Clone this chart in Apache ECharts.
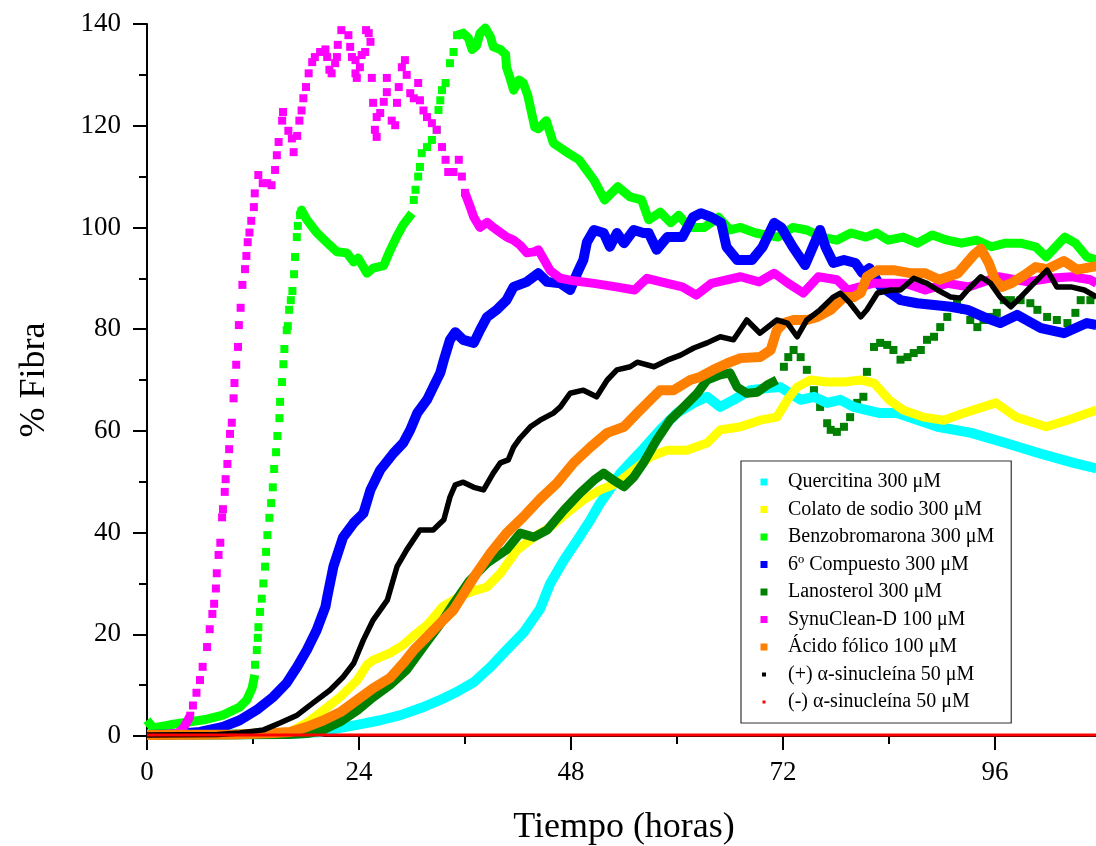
<!DOCTYPE html>
<html>
<head>
<meta charset="utf-8">
<script src="https://cdn.jsdelivr.net/npm/echarts/dist/echarts.min.js"></script>
<style>
  html, body { margin: 0; padding: 0; background: #fff; }
  #chart { width: 1096px; height: 846px; }
</style>
</head>
<body>
<div id="chart"></div>
<script>
// Tick values for both axes
const xTicks = [0, 24, 48, 72, 96];
const xMinorStep = 12;
const xMax = 108;
const yTicks = [0, 20, 40, 60, 80, 100, 120, 140];

// Legend labels
const seriesNames = [
  'Quercitina 300 μM',
  'Colato de sodio 300 μM',
  'Benzobromarona 300 μM',
  '6º Compuesto 300 μM',
  'Lanosterol 300 μM',
  'SynuClean-D 100 μM',
  'Ácido fólico 100 μM',
  '(+) α-sinucleína 50 μM',
  '(-) α-sinucleína 50 μM'
];

// [time (h), % fibra]; a null entry breaks the continuous trace
const quercitina = [
  [0,0.3],[8,0.3],[14,0.4],[17,0.5],[19.6,0.8],[21.9,1.6],[23.8,2.2],[26.4,3.1],[28.7,4.1],[31.3,5.7],
  [33.2,7.1],[35.1,8.7],[37.0,10.6],[38.9,13.6],[40.7,16.9],[42.6,20.3],[44.5,25],[45.65,30],[47.2,34.6],
  [48.7,38.5],[50.2,42.5],[51.3,45.8],[52.4,48.5],[53.6,51.7],[55.1,54.5],[56.2,56.5],[58.1,60.2],
  [60.0,63.5],[61.9,65.5],[63.4,66.7],[64.9,64.7],[66.4,66.1],[68.3,68],[70.2,68.4],[71.7,68.6],
  [72.8,67.4],[74.0,66.1],[75.5,66.7],[77.0,65.5],[78.5,66.1],[80.0,64.7],[81.5,64.1],[83.0,63.5],
  [84.9,63.5],[89.5,60.8],[93.3,59.6],[97.2,57.6],[101.0,55.6],[104.9,53.7],[107.5,52.6]
];

const colato = [
  [0,0.3],[10,0.3],[14,0.4],[16.2,0.8],[18.1,2.6],[20.0,5.1],[21.9,7.7],[23.8,11],[24.9,14],[25.6,14.9],
  [27.5,16.3],[29.0,17.9],[30.6,20.3],[31.7,21.8],[33.5,25.5],[35.5,27.5],[36.9,28.5],[38.5,29.3],
  [40.0,32],[41.9,36.6],[43.8,39.1],[45.65,41.1],[47.5,43.8],[49.4,46.4],[51.3,48.4],[53.2,49.7],
  [55.1,52.3],[57.0,54.9],[58.9,56.2],[61.1,56.2],[63.4,57.6],[64.9,60.2],[67.2,60.8],[69.4,62.1],
  [71.3,62.7],[72.5,66.1],[73.6,68.6],[75.1,70],[77.0,69.6],[78.9,69.6],[80.8,70],[82.3,69.4],
  [84.0,66.1],[85.6,64.1],[87.9,62.7],[90.2,62.1],[92.5,63.5],[96.1,65.5],[98.4,62.7],[101.8,60.8],
  [104.2,62.1],[107.5,64.1]
];

const benzobromaronaBand = [
  [0,3.1],[0.7,1.6],[2.6,2.2],[4.9,2.8],[6.8,3.3],[8.6,4.1],[10.5,5.7],[11.3,7.1],[11.9,9.4],[12.2,12],
  null,
  [17.33,102.4],[17.5,103.4],[18.1,101.5],[19.2,99],[20.4,97],[21.5,95.2],[22.6,95],[23.4,93.2],[23.9,94],
  [24.9,91],[25.6,92],[26.8,92.5],[27.5,95.4],[28.3,98.3],[29.0,100.5],[30.0,102.8],
  null,
  [35.1,137.8],[35.8,138.2],[36.4,137.2],[36.8,135],[37.3,135.7],[37.7,138.2],[38.3,139.2],[38.9,137.4],
  [39.2,135.5],[40.0,135],[40.6,134],[40.7,131.5],[41.1,129.4],[41.5,127],[42.1,129],[42.6,128.4],
  [43.1,126],[43.9,119.7],[44.3,119.4],[45.2,121],[46.0,116.6],[47.7,114.6],[48.9,113.3],[50.6,109.3],
  [51.8,105.4],[53.3,108],[54.7,106],[56.0,105.4],[56.8,101.5],[58.1,103],[59.3,100.9],[60.2,102.4],
  [61.4,100],[63.1,100],[64.7,102],[66.0,99.5],[67.2,100],[68.9,98.9],[71.4,98.1],[73.1,100],[74.7,99.5],
  [76.4,98.1],[78.1,97.5],[79.7,98.9],[81.4,98.1],[82.6,98.9],[83.9,97.5],[85.6,98.1],[87.2,96.9],
  [88.9,98.5],[90.6,97.5],[92.2,96.9],[93.9,97.5],[95.6,96.2],[97.2,96.9],[98.9,96.9],[100.6,96.2],
  [101.8,94.2],[103.9,98.1],[105.1,96.9],[106.4,94.2],[107.5,93.6]
];
const benzobromaronaDots = [
  [12.23,14],[12.43,16.9],[12.54,19.3],[12.61,21.4],[12.8,24.4],[12.99,27],[13.17,30],[13.37,33.3],
  [13.48,36.2],[13.63,39.5],[13.85,42.9],[14.05,45.8],[14.24,48.9],[14.39,52.5],[14.61,55.8],[14.76,59],
  [14.99,62.5],[15.07,65.7],[15.29,69.6],[15.44,73.1],[15.55,76.1],[15.82,79.8],[15.94,80.6],[16.09,83.8],
  [16.28,85.7],[16.46,87.5],[16.65,90.8],[16.76,94.2],[16.96,98.1],[17.07,100.3],[17.33,102.4],
  [30.2,105.4],[30.4,107.4],[30.7,110],[30.9,111.9],[31.1,114.6],[31.7,115.8],[32.25,117.2],[32.8,119.2],
  [33.0,123.1],[33.2,125],[33.4,127],[33.8,128.4],[34.3,132.3],[34.7,134.5],[35.1,137.8]
];

const compuesto6 = [
  [0,0.2],[2.6,0.3],[6.0,0.8],[8.6,1.8],[10.5,3.1],[12.4,5.1],[14.3,7.7],[15.8,10.4],[17.0,13.6],
  [18.1,16.9],[19.2,20.8],[20.2,25.4],[20.4,27.3],[21.1,33.3],[22.2,39.1],[23.4,41.9],[24.5,43.8],
  [25.3,48.4],[26.4,52.3],[27.9,55.6],[29.0,57.6],[29.8,60.2],[30.6,63.5],[31.7,66.1],[32.4,68.6],
  [33.2,71.4],[33.6,73.9],[34.3,77.9],[34.9,79.4],[35.8,77.9],[37.0,77.3],[37.7,79.8],[38.5,82.4],
  [39.6,83.8],[40.7,85.7],[41.5,88.3],[43.0,89.3],[44.3,91],[45.3,89.3],[46.8,89],[47.9,87.7],
  [48.7,91],[49.4,93.6],[49.8,97.1],[50.6,99.5],[51.7,98.9],[52.4,96.2],[53.2,98.9],[54.0,96.9],
  [55.1,99.5],[56.2,98.9],[56.8,98.9],[57.7,95.6],[58.9,98.1],[60.6,98.1],[61.8,102],[62.7,102.8],
  [63.9,102],[65.0,100.9],[65.6,96.2],[66.8,93.6],[68.5,93.6],[69.7,96.2],[71.0,100.9],[71.8,100],
  [73.1,96.2],[74.5,92.6],[75.1,95],[76.2,99.5],[76.8,96.2],[77.7,93],[78.9,93.6],[80.2,93],[81.0,91],
  [81.8,92],[83.0,88.5],[85.3,85.7],[87.2,85.1],[91.0,84.4],[92.9,83.8],[94.7,82.4],[96.6,81.2],
  [98.5,82.8],[101.2,80.2],[103.8,79.2],[106.4,81.2],[107.5,80.8]
];

const lanosterolBand = [
  [0,0.2],[16,0.3],[18.1,0.5],[19.6,0.9],[21.9,2.8],[23.8,5],[25.6,7.6],[27.5,10],[29.4,13],[31.7,18.5],
  [33.2,22],[34.7,26],[36.5,30.5],[38.5,34],[40.7,36.6],[42.25,39.9],[43.8,39.1],[45.3,40.5],[47.2,44.4],
  [49.05,47.8],[50.6,50.3],[51.7,51.7],[52.8,50.3],[54.0,49],[55.1,50.9],[56.2,53.7],[57.7,58.2],
  [59.2,62.1],[60.75,64.7],[62.3,67.4],[63.4,70],[64.9,71],[66.0,71.4],[66.8,68.6],[67.9,67.4],
  [69.1,67.6],[70.2,69],[71.3,70]
];
const lanosterolDots = [
  [72.1,72.6],[72.6,74.5],[73.2,75.9],[74.0,74.5],[74.7,72],[75.5,68],[76.2,64.7],[77.0,61.5],[77.4,60.2],
  [78.1,59.8],[78.9,60.8],[79.6,62.7],[80.4,65.5],[81.1,66.7],[81.5,71.6],[82.3,76.5],[83.0,77.3],
  [83.8,76.9],[84.5,75.9],[85.3,74.0],[86.1,74.5],[86.8,75.3],[87.6,75.9],[88.3,77.9],[89.1,78.5],
  [89.8,80.4],[90.6,82.4],[91.3,84.4],[91.7,85.1],[92.5,83.8],[93.2,81.8],[94.0,80.4],[94.7,81.8],
  [95.5,82.4],[96.2,83.2],[97.0,85.7],[97.8,85.7],[98.9,85.7],[100.0,85.1],[100.8,83.8],[101.9,82.4],
  [103.0,81.8],[104.2,81.2],[105.1,83.2],[105.7,85.7],[106.8,85.7]
];

const synucleanBand = [
  [0,0.3],[2.0,0.3],[3.4,0.5],[3.8,1],[4.2,1.8],[4.5,2.7],[4.9,4],
  null,
  [36.0,106.8],[36.6,104],[37.0,102],[37.7,100],[38.5,101],[39.2,100],[40.0,99],[40.75,98.1],[41.5,97.5],
  [42.25,96.5],[43.0,95],[43.8,95.2],[44.3,95.6],[45.0,93.5],[45.65,91.5],[46.8,90],[48.3,89.5],
  [50.6,89],[53.1,88.3],[55.2,87.7],[56.6,90],[58.9,89],[60.6,88.3],[62.2,86.7],[63.9,89],[67.2,90.3],
  [69.3,89.3],[71.0,91],[72.6,89],[74.3,87.1],[76.0,90.3],[78.1,89.7],[79.3,87.7],[82.2,89],[85.9,89],
  [88.1,87.7],[90.6,89],[93.0,88.3],[96.4,90.3],[99.7,89.3],[102.2,90],[104.7,90.3],[106.8,89.7],[107.5,89]
];
const synucleanDots = [
  [4.9,4],[5.2,6],[5.6,8.5],[6.0,11],[6.3,13.6],[6.8,17.5],[7.1,21],[7.4,24],[7.6,26],[7.8,29],[7.9,32],
  [8.1,35.6],[8.3,38],[8.5,43],[8.6,44.6],[8.8,48],[8.9,50.5],[9.1,53.5],[9.3,56.4],[9.4,59.4],[9.6,61.6],
  [9.8,66.4],[9.9,69.4],[10.1,73],[10.3,76.5],[10.4,80.8],[10.6,84.2],[10.8,88.7],[11.1,91.8],[11.25,94.4],
  [11.4,97.1],[11.6,99],[11.8,101.3],[12.1,104],[12.2,106.7],[12.6,110.3],[13.1,108.7],[13.6,108.7],
  [14.1,108.3],[14.5,111.3],[14.7,114.2],[14.9,116.8],[15.3,121],[15.4,122.7],[16.0,119],[16.4,117.5],
  [16.6,114.8],[17.0,118],[17.25,121],[17.5,123],[17.7,125.4],[18.0,127.6],[18.3,130.3],[18.7,132.5],
  [19.0,133.5],[19.6,134.5],[20.2,135],[20.4,133.5],[20.65,131],[20.9,130.3],[21.3,132.3],[21.5,133.5],
  [21.6,135.9],[22.0,138.8],[22.8,137.8],[23.0,135.5],[23.2,133.5],[23.6,132.9],[23.6,130.3],[23.75,129.4],
  [24.1,131.5],[24.3,133.9],[24.7,134.5],[24.8,138.8],[25.1,138.2],[25.3,136.5],[25.45,129.4],[25.6,124.5],
  [25.8,119.2],[26.0,117.8],[26.0,121.7],[26.4,122.5],[26.8,124.7],[27.15,126.6],[27.15,129.4],[27.7,121],
  [28.1,120.1],[28.3,124.5],[28.5,127.6],[28.85,131.5],[29.2,132.9],[29.4,130],[29.8,126.4],[30.2,125.4],
  [30.7,128.4],[30.9,125],[31.3,123],[31.7,121.7],[32.25,120.5],[32.8,119.2],[33.4,115.8],[33.8,113.3],
  [34.1,110.9],[34.7,110.9],[35.3,113.3],[35.65,110],[36.0,106.8]
];

const acidoFolico = [
  [0,0.2],[10,0.3],[14.3,0.6],[16.2,0.8],[18.1,1.8],[20.0,3.1],[21.9,4.7],[23.8,7.1],[25.6,9.4],
  [27.5,11.4],[29.0,14.3],[30.2,16.9],[31.7,19.5],[33.2,22.2],[34.7,24.8],[35.5,27],[37.3,32],[38.9,36],
  [40.7,39.9],[42.6,43.1],[44.5,46.6],[46.4,49.7],[48.3,53.7],[50.2,56.8],[52.1,59.6],[54.0,60.8],
  [55.5,63.5],[57.0,66.1],[58.1,68],[59.6,68],[61.5,70],[62.6,70.6],[64.1,72],[65.7,73.3],[67.2,74.3],
  [69.4,74.5],[70.6,75.9],[71.3,79.8],[72.1,81.2],[73.2,81.8],[74.7,81.8],[75.9,82.4],[77.4,83.8],
  [78.9,86.3],[80.0,86.3],[80.8,87.1],[81.5,90.3],[82.7,91.6],[84.5,91.6],[86.4,91],[88.1,91],[89.7,89.7],
  [91.8,91],[93.6,94.6],[94.4,95.8],[95.3,93],[96.0,89.7],[96.8,88.3],[97.8,89],[99.3,90.6],[100.6,92.2],
  [101.9,91.8],[103.8,93.4],[105.3,91.7],[107.5,92.4]
];

const alfaPositivo = [
  [0,0.2],[8,0.3],[10.5,0.6],[13.2,1.2],[15.1,2.6],[17.0,4.1],[18.8,6.5],[20.7,9],[22.2,11.6],[23.4,14.3],
  [24.5,18.9],[25.6,22.8],[27.2,26.7],[28.3,33.3],[29.4,36.6],[30.9,40.5],[32.4,40.5],[33.6,42.5],
  [34.3,47],[34.9,49.4],[35.8,49.9],[37.0,48.9],[38.1,48.4],[39.2,51.7],[40.0,53.7],[40.9,54.3],
  [41.5,56.8],[42.25,58.6],[43.4,60.8],[44.5,62.1],[46.0,63.5],[46.8,64.7],[47.9,67.4],[49.4,68],
  [50.9,66.7],[52.1,70],[53.2,72],[54.7,72.6],[55.5,73.5],[57.4,72.6],[58.9,73.9],[60.4,74.9],
  [61.9,76.3],[63.4,77.3],[64.9,78.5],[66.4,77.9],[67.9,81.8],[69.4,79.2],[71.3,81.8],[72.5,81.2],
  [73.6,78.5],[74.7,81.8],[76.2,83.8],[77.7,86.3],[78.5,87.1],[79.6,85.1],[80.8,82.4],[81.5,83.8],
  [82.7,87.1],[84.2,87.7],[85.3,87.7],[86.8,90],[88.3,89],[89.5,87.7],[91.0,86.3],[92.1,86.1],[92.9,87.7],
  [94.4,90.3],[95.5,89],[96.6,86.3],[97.8,84.4],[98.9,86.3],[100.4,89],[101.9,91.6],[103.0,88.3],
  [104.6,88.3],[106.1,87.7],[107.5,86.3]
];

const alfaNegativo = [[0,0.2],[108,0.2]];

// ---- chart construction ----
const FONT = '"Liberation Serif", "Times New Roman", serif';

function splitAtNulls(points) {
  const parts = [[]];
  points.forEach(p => {
    if (p === null) parts.push([]);
    else parts[parts.length - 1].push(p);
  });
  return parts.filter(p => p.length);
}

function bandSeries(name, points, color, width, clip) {
  return splitAtNulls(points).map(seg => ({
    name: name,
    type: 'line',
    data: seg,
    showSymbol: false,
    symbol: 'none',
    clip: clip !== false,
    silent: true,
    lineStyle: { color: color, width: width, cap: 'butt', join: 'round' },
    itemStyle: { color: color },
    emphasis: { disabled: true }
  }));
}

function dotSeries(name, points, color, size) {
  return [{
    name: name,
    type: 'scatter',
    data: points,
    symbol: 'rect',
    symbolSize: size,
    silent: true,
    itemStyle: { color: color, opacity: 1 },
    emphasis: { disabled: true }
  }];
}

const colors = ['#00FFFF', '#FFFF00', '#00FF00', '#0000FF', '#008000', '#FF00FF', '#FF8000', '#000000', '#FF0000'];

const series = [].concat(
  bandSeries(seriesNames[0], quercitina, colors[0], 10),
  bandSeries(seriesNames[1], colato, colors[1], 9),
  bandSeries(seriesNames[2], benzobromaronaBand, colors[2], 9),
  dotSeries(seriesNames[2], benzobromaronaDots, colors[2], 8),
  bandSeries(seriesNames[3], compuesto6, colors[3], 10),
  bandSeries(seriesNames[4], lanosterolBand, colors[4], 9),
  dotSeries(seriesNames[4], lanosterolDots, colors[4], 8),
  bandSeries(seriesNames[5], synucleanBand, colors[5], 9),
  dotSeries(seriesNames[5], synucleanDots, colors[5], 8),
  bandSeries(seriesNames[6], acidoFolico, colors[6], 10),
  bandSeries(seriesNames[7], alfaPositivo, colors[7], 5.5),
  bandSeries(seriesNames[8], alfaNegativo, colors[8], 3, false)
);

const squareIcon = 'path://M0,0H7V7H0Z';
const smallSquareIcon = 'path://M0,0M7,7M1.5,1.5H5.5V5.5H1.5Z';
const tinySquareIcon = 'path://M0,0M7,7M2,2H5V5H2Z';

const legendData = seriesNames.map((n, i) => ({
  name: n,
  icon: i === 7 ? smallSquareIcon : (i === 8 ? tinySquareIcon : squareIcon),
  itemStyle: { color: colors[i] }
}));

const chart = echarts.init(document.getElementById('chart'), null, { renderer: 'canvas' });

chart.setOption({
  animation: false,
  backgroundColor: '#ffffff',
  textStyle: { fontFamily: FONT },
  grid: {
    left: 147, top: 24, right: -5, bottom: 110,
    containLabel: false,
    outerBoundsMode: 'none'
  },
  legend: {
    data: legendData,
    orient: 'vertical',
    left: 741,
    top: 461,
    padding: [11, 17, 11, 19.5],
    itemWidth: 38,
    itemHeight: 7,
    itemGap: 7.5,
    selectedMode: false,
    borderColor: '#333',
    borderWidth: 1.2,
    backgroundColor: '#ffffff',
    textStyle: { fontFamily: FONT, fontSize: 20, lineHeight: 20, color: '#000' }
  },
  xAxis: [
    {
      type: 'value',
      min: 0, max: xMax,
      interval: xTicks[1] - xTicks[0],
      position: 'bottom',
      name: 'Tiempo (horas)',
      nameLocation: 'middle',
      nameGap: 74,
      nameTextStyle: { fontFamily: FONT, fontSize: 36, color: '#000' },
      axisLine: { show: true, onZero: false, lineStyle: { color: '#000', width: 2 } },
      axisTick: { show: true, inside: false, length: 14, lineStyle: { color: '#000', width: 2 } },
      axisLabel: {
        fontFamily: FONT, fontSize: 27, color: '#000', margin: 23,
        showMaxLabel: false,
        formatter: v => (xTicks.indexOf(v) >= 0 ? String(v) : '')
      },
      splitLine: { show: false }
    },
    {
      type: 'value',
      min: 0, max: xMax,
      interval: xMinorStep,
      position: 'bottom',
      axisLine: { show: false },
      axisTick: { show: true, inside: false, length: 8, lineStyle: { color: '#000', width: 2 } },
      axisLabel: { show: false },
      splitLine: { show: false }
    }
  ],
  yAxis: {
    type: 'value',
    min: yTicks[0], max: yTicks[yTicks.length - 1],
    interval: yTicks[1] - yTicks[0],
    name: '% Fibra',
    nameLocation: 'middle',
    nameRotate: 90,
    nameGap: 94,
    nameTextStyle: { fontFamily: FONT, fontSize: 36, color: '#000' },
    axisLine: { show: true, onZero: false, lineStyle: { color: '#000', width: 2 } },
    axisTick: { show: true, inside: false, length: 14, lineStyle: { color: '#000', width: 2 } },
    minorTick: { show: true, splitNumber: 2, length: 8, lineStyle: { color: '#000', width: 2 } },
    axisLabel: { fontFamily: FONT, fontSize: 27, color: '#000', margin: 26 },
    splitLine: { show: false },
    minorSplitLine: { show: false }
  },
  series: series
});
</script>
</body>
</html>
